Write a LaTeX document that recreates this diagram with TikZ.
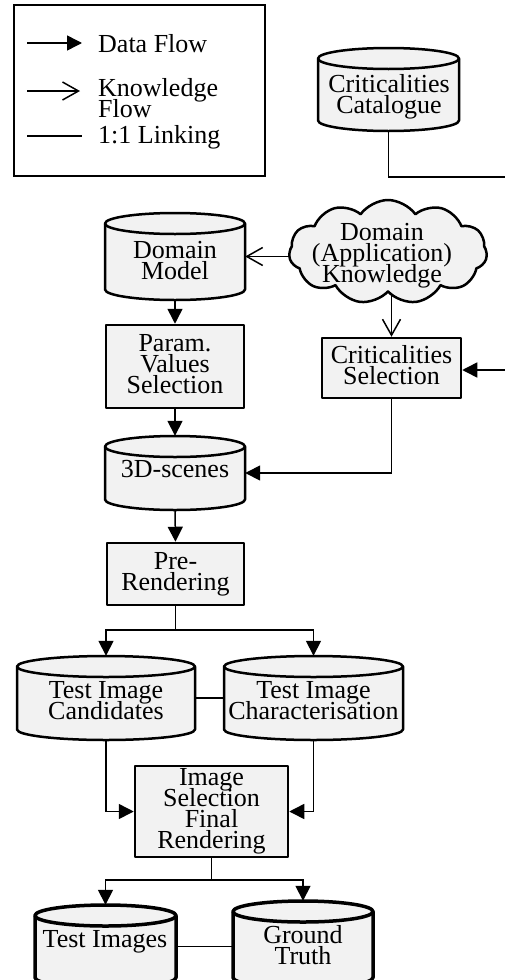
\documentclass[tikz,border=0pt]{standalone}
\usepackage{fontspec}
\setmainfont{Liberation Serif}
\usetikzlibrary{arrows.meta,shapes.symbols}
\definecolor{gfill}{RGB}{242,242,242}
\newcommand\fs{\fontsize{26pt}{21pt}\selectfont\lineskiplimit=-\maxdimen}
\newcommand\stt{\vrule height 18pt depth 6pt width 0pt}
\newcommand\cylr{10.5}
\tikzset{
  shape line/.style={draw=black,line width=2.5pt,fill=gfill,line join=round},
  procbox/.style={shape line,rectangle,inner sep=0pt},
  txt/.style={font=\fs,align=center,inner sep=0pt,execute at begin node=\stt,execute at end node=\stt},
  dflow/.style={line width=1.5pt,-{Triangle[length=15pt,width=15pt]}},
  kflow/.style={line width=1.5pt,-{Straight Barb[length=16pt,width=18pt,line width=1.5pt]}},
  link/.style={line width=1.5pt},
}
\newcommand{\dbcyl}[6]{%
  \pgfmathsetmacro\cxa{(#2+#4)/2}%
  \pgfmathsetmacro\cya{-(#3+#5)/2}%
  \pgfmathsetmacro\rxa{(#4-#2)/2}%
  \pgfmathsetmacro\tya{-(#3+\cylr)}%
  \pgfmathsetmacro\bya{-(#5-\cylr)}%
  \pgfmathsetmacro\wa{#4-#2}%
  \pgfmathsetmacro\ha{#5-#3}%
  \draw[shape line,#6] (#2,\tya) -- (#2,\bya) arc[start angle=180,end angle=360,x radius=\rxa,y radius=\cylr] -- (#4,\tya) arc[start angle=0,end angle=180,x radius=\rxa,y radius=\cylr] -- cycle;
  \draw[shape line,fill=none,#6] (#2,\tya) arc[start angle=180,end angle=360,x radius=\rxa,y radius=\cylr];
  \node[inner sep=0pt,minimum width=\wa pt,minimum height=\ha pt] (#1) at (\cxa,\cya) {};
}
\begin{document}
\begin{tikzpicture}[x=1pt,y=1pt]
\useasboundingbox (0,0) rectangle (505,-980);
\fill[white] (0,0) rectangle (505,-980);
\clip (0,0) rectangle (505,-980);

% legend
\node[draw,line width=1.5pt,minimum width=251pt,minimum height=171pt,inner sep=0pt] (legend) at (139.5,-90.5) {};
\coordinate (la1) at (27,-43); \coordinate (la2) at (82,-43);
\coordinate (lb1) at (27,-91); \coordinate (lb2) at (80,-91);
\coordinate (lc1) at (27,-136); \coordinate (lc2) at (82,-136);
\draw[dflow] (la1) -- (la2);
\draw[kflow] (lb1) -- (lb2);
\draw[link] (lc1) -- (lc2);
\node[txt,anchor=west,align=left] (ld1) at (98,-46) {Data Flow};
\node[txt,anchor=west,align=left] (ld2) at (98,-101) {Knowledge\\Flow};
\node[txt,anchor=west,align=left] (ld3) at (98,-137) {1:1 Linking};

% cylinders
\dbcyl{cc}{318}{48}{459}{131}{}
\node[txt] (cc-t) at (389,-97) {Criticalities\\Catalogue};
\dbcyl{dm}{105}{213}{245}{300}{}
\node[txt] (dm-t) at (175,-263) {Domain\\Model};
\dbcyl{sc}{105}{436}{245}{510}{}
\node[txt] (sc-t) at (175,-471) {3D-scenes};
\dbcyl{tic}{17}{656}{195}{740}{}
\node[txt] (tic-t) at (106,-703.5) {Test Image\\Candidates};
\dbcyl{tich}{224}{656}{403}{740}{}
\node[txt] (tich-t) at (313.5,-703.5) {Test Image\\Characterisation};
\dbcyl{ti}{35}{905}{176}{988}{line width=3.5pt}
\node[txt] (ti-t) at (105,-941) {Test Images};
\dbcyl{gt}{233}{901}{373}{988}{line width=3.5pt}
\node[txt] (gt-t) at (303,-948) {Ground\\Truth};

% cloud
\node[cloud,cloud puffs=11,cloud puff arc=110,aspect=2,shape line,minimum width=198pt,minimum height=104pt,inner sep=0pt] (cloud) at (388,-252) {};
\node[txt] (cloud-t) at (382,-256) {Domain\\(Application)\\Knowledge};

% process boxes
\node[procbox,txt,minimum width=138pt,minimum height=83pt] (pvs) at (175,-366.5) {Param.\\Values\\Selection};
\node[procbox,txt,minimum width=139pt,minimum height=60pt] (cs) at (391.5,-368) {Criticalities\\Selection};
\node[procbox,txt,minimum width=137pt,minimum height=62pt] (pre) at (175.5,-574) {Pre-\\Rendering};
\node[procbox,txt,minimum width=153pt,minimum height=91pt] (isf) at (211.5,-811.5) {Image\\Selection\\Final\\Rendering};

% connectors
\draw[kflow] (cloud.west |- dm.east) -- (dm.east);
\draw[kflow] (cs.north |- cloud.south) -- (cs.north);
\draw[dflow] (dm.south) -- (pvs.north);
\draw[dflow] (pvs.south) -- (sc.north);
\draw[dflow] (cs.south) |- (sc.east);
\draw[dflow] (sc.south) -- (pre.north);
\coordinate (spl1) at (175.5,-630);
\draw[dflow] (pre.south) -- (spl1) -| (tic.north);
\draw[dflow] (spl1) -| (tich.north);
\draw[link] (tic.east) -- (tich.west);
\draw[dflow] (tic.south) |- (isf.west);
\draw[dflow] (tich.south) |- (isf.east);
\coordinate (spl2) at (211.5,-880);
\draw[dflow] (isf.south) -- (spl2) -| (ti.north);
\draw[dflow] (spl2) -| (gt.north);
\draw[link] (ti.east) -- (ti.east -| gt.west);
\coordinate (ccr1) at (507,-177);
\coordinate (ccr2) at (507,-370);
\draw[dflow] (cc.south) |- (ccr1) -- (ccr2) -- (cs.east |- ccr2);
\end{tikzpicture}
\end{document}
